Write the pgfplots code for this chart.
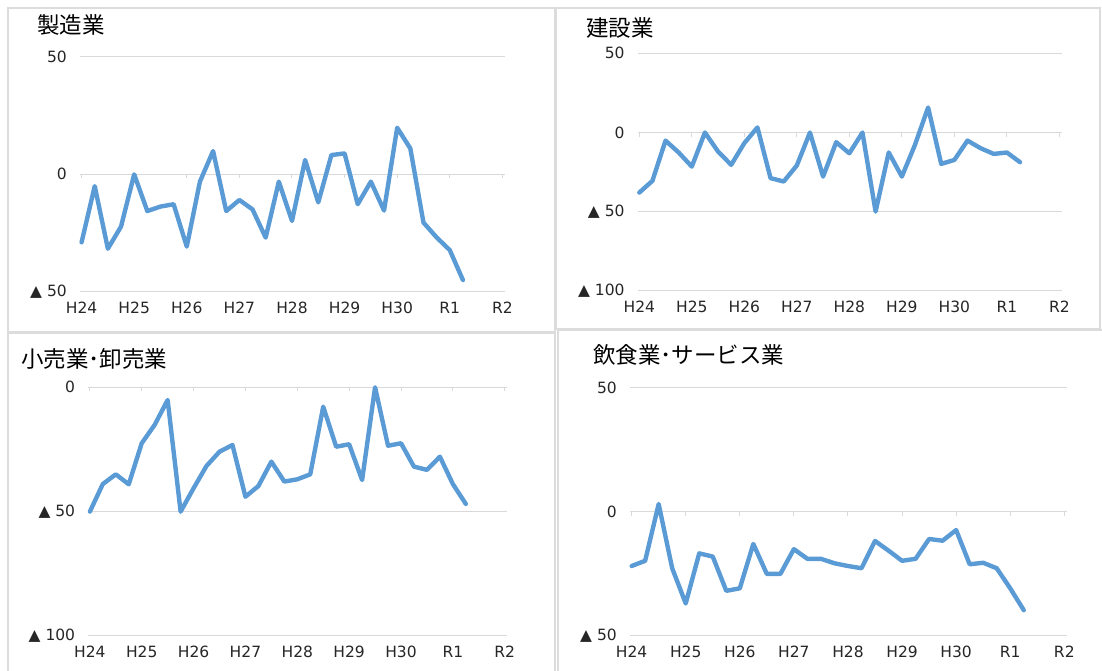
\documentclass[border=0pt]{standalone}
\usepackage{fontspec}
\setmainfont{DejaVu Sans}
\newfontfamily\cjk{Noto Sans CJK JP}
\usepackage{pgfplots}
\pgfplotsset{compat=1.18}

\definecolor{seriesblue}{HTML}{5B9BD5}
\definecolor{gridgray}{HTML}{D9D9D9}
\definecolor{framegray}{HTML}{DCDCDC}
\definecolor{labelgray}{HTML}{262626}

\pgfplotsset{
  panel/.style={
    scale only axis,
    xmin=-0.12, xmax=32.2,
    axis line style={draw=none},
    tick style={draw=none},
    xtick={0,4,8,12,16,20,24,28,32},
    xticklabels={H24,H25,H26,H27,H28,H29,H30,R1,R2},
    ymajorgrids,
    grid style={gridgray, line width=1pt},
    tick label style={font=\fontsize{15.5}{18}\selectfont, text=labelgray, inner sep=0pt},
    xticklabel style={anchor=center, yshift=-16pt},
    yticklabel style={anchor=east, xshift=-13pt},
    clip=false,
    /pgf/number format/assume math mode=true,
  },
  series/.style={seriesblue, line width=4.4pt, line join=round, line cap=round, mark=none},
}

% small tick marks on the zero line, one per fiscal year
\newcommand{\yearticks}{%
  \pgfplotsinvokeforeach{0,4,8,12,16,20,24,28,32}{%
    \draw[gridgray, line width=1pt] (axis cs:##1,0) -- ++(0pt,-4pt);}}

\begin{document}
\begin{tikzpicture}[x=1pt,y=1pt]
\useasboundingbox (0,0) rectangle (1102,671);

% panel frames
\draw[framegray, line width=2pt] (8,663) rectangle (555,339);
\draw[framegray, line width=2pt] (556,663) rectangle (1100,342);
\draw[framegray, line width=2pt] (8,338) rectangle (555,-5);
\draw[framegray, line width=2pt] (558,341) rectangle (1110,-5);

% titles
\node[anchor=west, inner sep=0pt, font=\cjk\fontsize{22.5}{26}\selectfont] at (37,646) {製造業};
\node[anchor=west, inner sep=0pt, font=\cjk\fontsize{22.5}{26}\selectfont] at (586,643) {建設業};
\node[anchor=west, inner sep=0pt, font=\cjk\fontsize{22.5}{26}\selectfont] at (21,312) {小売業･卸売業};
\node[anchor=west, inner sep=0pt, font=\cjk\fontsize{22.5}{26}\selectfont] at (593,316) {飲食業･サービス業};

% manufacturing
\begin{axis}[panel, at={(80pt,379pt)}, anchor=south west, width=425pt, height=235.3pt,
  ymin=-50, ymax=50, ytick={-50,0,50}, yticklabels={▲ 50,0,50}]
\yearticks
\addplot[series] coordinates {
(0,-28.9) (1,-5.0) (2,-31.6) (3,-22.2) (4,0) (5,-15.6) (6,-13.7) (7,-12.7)
(8,-30.7) (9,-3.1) (10,9.9) (11,-15.6) (12,-10.9) (13,-14.9) (14,-26.9) (15,-3.1)
(16,-19.8) (17,6.1) (18,-11.9) (19,8.2) (20,8.9) (21,-12.7) (22,-3.1) (23,-15.4)
(24,19.8) (25,11.0) (26,-20.5) (27,-26.8) (28,-32.2) (29,-44.9)};
\end{axis}

% construction
\begin{axis}[panel, at={(637.7pt,380pt)}, anchor=south west, width=424.3pt, height=237.7pt,
  ymin=-100, ymax=50, ytick={-100,-50,0,50}, yticklabels={▲ 100,▲ 50,0,50}]
\yearticks
\addplot[series] coordinates {
(0,-37.9) (1,-30.5) (2,-5.1) (3,-12.6) (4,-21.5) (5,0) (6,-12.0) (7,-20.4)
(8,-6.7) (9,3.2) (10,-28.8) (11,-30.9) (12,-20.8) (13,0) (14,-27.8) (15,-6.1)
(16,-13.1) (17,0) (18,-49.9) (19,-12.6) (20,-27.8) (21,-7.8) (22,15.8) (23,-19.8)
(24,-17.3) (25,-5.1) (26,-9.9) (27,-13.5) (28,-12.6) (29,-18.7)};
\end{axis}

% retail and wholesale
\begin{axis}[panel, at={(88.3pt,35pt)}, anchor=south west, width=419pt, height=248.7pt,
  ymin=-100, ymax=0, ytick={-100,-50,0}, yticklabels={▲ 100,▲ 50,0}]
\yearticks
\addplot[series] coordinates {
(0,-50.0) (1,-38.9) (2,-35.0) (3,-39.0) (4,-22.5) (5,-15.1) (6,-5.1) (7,-50.0)
(8,-40.6) (9,-31.6) (10,-25.9) (11,-23.2) (12,-44.0) (13,-39.7) (14,-29.9) (15,-37.9)
(16,-37.0) (17,-35.0) (18,-7.8) (19,-23.9) (20,-22.9) (21,-37.3) (22,0) (23,-23.5)
(24,-22.5) (25,-31.9) (26,-33.2) (27,-27.9) (28,-38.9) (29,-46.9)};
\end{axis}

% food service and services
\begin{axis}[panel, at={(630pt,35.3pt)}, anchor=south west, width=437pt, height=248pt,
  ymin=-50, ymax=50, ytick={-50,0,50}, yticklabels={▲ 50,0,50}]
\yearticks
\addplot[series] coordinates {
(0,-21.9) (1,-19.8) (2,3.1) (3,-22.8) (4,-37.0) (5,-16.8) (6,-18.1) (7,-31.9)
(8,-30.9) (9,-13.0) (10,-25.1) (11,-25.1) (12,-15.1) (13,-19.0) (14,-19.0) (15,-20.8)
(16,-21.9) (17,-22.8) (18,-11.8) (19,-15.7) (20,-19.8) (21,-19.0) (22,-11.0) (23,-11.7)
(24,-7.4) (25,-21.2) (26,-20.6) (27,-22.8) (28,-30.9) (29,-39.7)};
\end{axis}
\end{tikzpicture}
\end{document}
